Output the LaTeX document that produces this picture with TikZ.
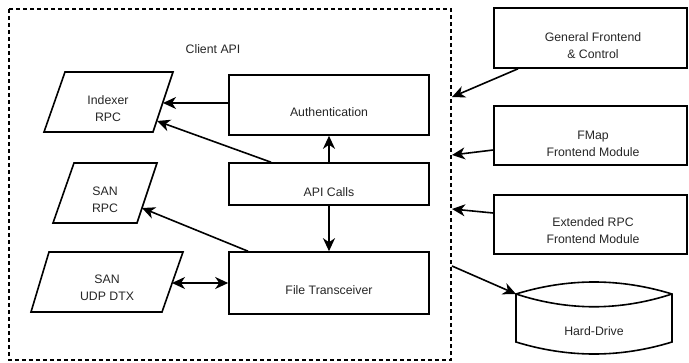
\documentclass[tikz,border=0pt]{standalone}
\usepackage{fontspec}
\setmainfont{Liberation Sans}
\usetikzlibrary{arrows.meta}
\begin{document}
\begin{tikzpicture}[x=1pt,y=-1pt,
  box/.style={draw,line width=1.6pt,rectangle,inner sep=0pt},
  shp/.style={line width=1.6pt,line join=miter},
  txt/.style={align=center,inner sep=0pt,text=black!85,font=\fontsize{12.3}{17}\selectfont},
  tip/.style={},
  arr/.style={line width=1.6pt,-{Stealth[length=13pt,width=12pt,inset=4pt]}},
  arrd/.style={line width=1.6pt,{Stealth[length=13pt,width=12pt,inset=4pt]}-{Stealth[length=13pt,width=12pt,inset=4pt]}},
  frame/.style={line width=1.3pt,dash pattern=on 4pt off 3pt}]
\useasboundingbox (0,0) rectangle (689,362);
% dashed frame
\draw[frame] (9,9) rectangle (451,360);
\node[txt] (capt) at (213,49) {Client API};
% main boxes
\node[box,minimum width=200pt,minimum height=60pt] (auth) at (329,105) {};
\node[txt] (authT) at (329,112) {Authentication};
\node[box,minimum width=200pt,minimum height=42pt] (api) at (329,184) {};
\node[txt] (apiT) at (329,192) {API Calls};
\node[box,minimum width=200pt,minimum height=62pt] (ft) at (329,283) {};
\node[txt] (ftT) at (329,290) {File Transceiver};
% parallelograms
\draw[shp] (65,72) -- (173,72) -- (153,132) -- (44,132) -- cycle;
\node[txt] (idx) at (108,108.5) {Indexer\\RPC};
\draw[shp] (74,163) -- (157,163) -- (137,223) -- (53,223) -- cycle;
\node[txt] (sanr) at (105,200) {SAN\\RPC};
\draw[shp] (49,252) -- (183,252) -- (162,312) -- (31,312) -- cycle;
\node[txt] (udp) at (107,288) {SAN\\UDP DTX};
\coordinate (idx1) at (163,103);
\coordinate (idx2) at (157,121);
\coordinate (sanr1) at (142,208);
\coordinate (udp1) at (172,283);
% right boxes
\node[box,minimum width=193pt,minimum height=60pt] (gen) at (590.5,38) {};
\node[txt] (genT) at (593,46) {General Frontend\\\& Control};
\node[box,minimum width=193pt,minimum height=59pt] (fmap) at (590.5,135.5) {};
\node[txt] (fmapT) at (593,144) {FMap\\Frontend Module};
\node[box,minimum width=193pt,minimum height=59pt] (ext) at (590.5,224.5) {};
\node[txt] (extT) at (593,231) {Extended RPC\\Frontend Module};
% hard drive
\draw[shp] (516,294) .. controls (568,278) and (620,278) .. (672,294)
  -- (672,342) .. controls (620,358) and (568,358) .. (516,342) -- cycle;
\draw[shp] (516,294) .. controls (568,311) and (620,311) .. (672,294);
\node[txt] (hdT) at (594,331) {Hard-Drive};
\coordinate (hd) at (516,294);
% frame points
\coordinate (cb1) at (452,97);
\coordinate (cb2) at (452,155);
\coordinate (cb3) at (452,209);
\coordinate (cb4) at (452,266);
% connectors
\draw[arr] ([yshift=2pt]auth.west) -- (idx1);
\draw[arr] ([xshift=-58pt]api.north) -- (idx2);
\draw[arr] (api.north) -- (auth.south);
\draw[arr] (api.south) -- (ft.north);
\draw[arr] ([xshift=-81pt]ft.north) -- (sanr1);
\draw[arrd] (udp1) -- (ft.west);
\draw[arr] ([xshift=-72.5pt]gen.south) -- (cb1);
\draw[arr] ([yshift=-14.5pt]fmap.west) -- (cb2);
\draw[arr] ([yshift=11.5pt]ext.west) -- (cb3);
\draw[arr] (cb4) -- (hd);
\end{tikzpicture}
\end{document}
